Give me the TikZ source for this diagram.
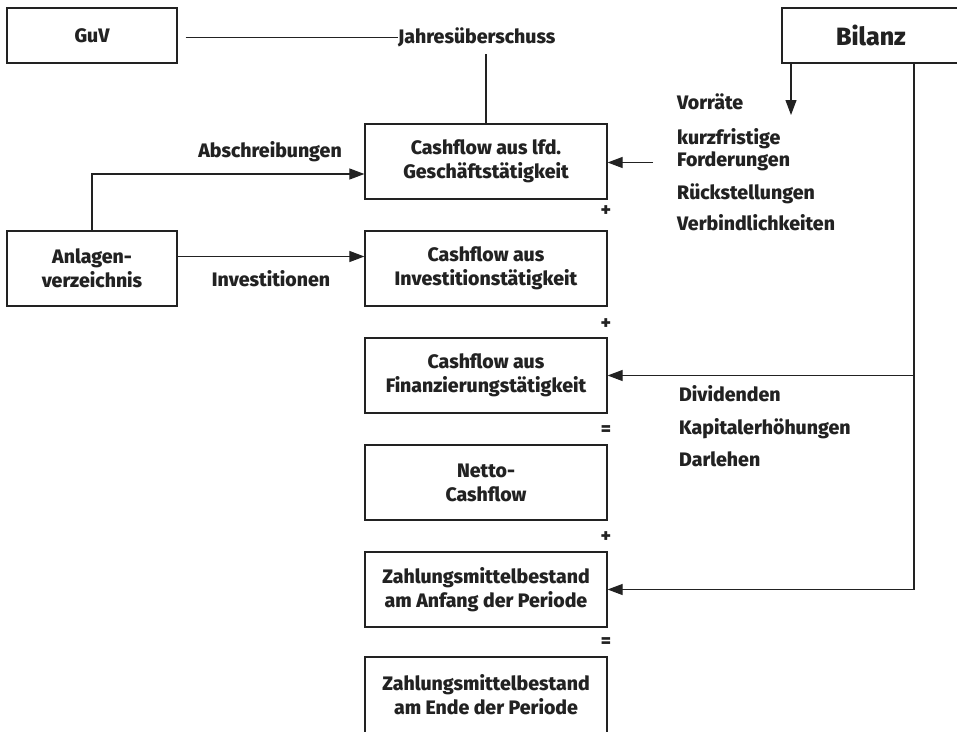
\documentclass[tikz,border=0pt]{standalone}
\usepackage{fontspec}
\setmainfont{Fira Sans}[BoldFont={Fira Sans ExtraBold}]
\usetikzlibrary{arrows.meta}
\definecolor{ink}{HTML}{222222}
\begin{document}
\begin{tikzpicture}[x=1pt,y=-1pt,
  every node/.style={font=\bfseries\fontsize{19.5}{24}\selectfont, text=ink},
  box/.style={draw=ink, line width=1.2pt, minimum height=75pt, align=center, inner sep=0pt},
  wide/.style={box, minimum width=242pt},
  side/.style={box, minimum width=170pt},
  lbl/.style={inner sep=0pt, anchor=base},
  item/.style={inner sep=0pt, anchor=base west},
  op/.style={inner sep=0pt},
  link/.style={draw=ink, line width=1.1pt},
  arr/.style={link, -{Triangle[length=15pt,width=11pt]}}]

\useasboundingbox (0,0) rectangle (957,731);
\clip (0,0) rectangle (957,731);

% sources
\node[side, minimum height=55pt] (guv) at (92,35.5) {GuV};
\node[box, minimum height=55pt, minimum width=178pt,
      font=\bfseries\fontsize{25}{28}\selectfont] (bilanz) at (871,35.5) {Bilanz};
\node[side] (anl) at (92,268.5) {Anlagen-\\verzeichnis};
\node[inner sep=0pt, anchor=base west] (jahr) at (398,43.5) {Jahresüberschuss};

% cash flow chain
\node[wide] (cf1) at (486,161.5) {Cashflow aus lfd.\\Geschäftstätigkeit};
\node[wide] (inv) at (486,268.5) {Cashflow aus\\Investitionstätigkeit};
\node[wide] (fin) at (486,375.5) {Cashflow aus\\Finanzierungstätigkeit};
\node[wide] (net) at (486,482.5) {Netto-\\Cashflow};
\node[wide] (anf) at (486,589.5) {Zahlungsmittelbestand\\am Anfang der Periode};
\node[wide, minimum height=76pt] (end) at (486,695) {Zahlungsmittelbestand\\am Ende der Periode};

% operators between the boxes
\node[op] (p1) at (606,211) {+};
\node[op] (p2) at (606,324) {+};
\node[op] (e1) at (606,431) {=};
\node[op] (p3) at (606,537) {+};
\node[op] (e2) at (606,643) {=};

% labels on the flows
\node[lbl] (abs) at (270,157.5) {Abschreibungen};
\node[lbl] (invl) at (271,286.5) {Investitionen};
\node[item] (vor) at (677,109.5) {Vorräte};
\node[inner sep=0pt, anchor=west, align=left,
      font=\bfseries\fontsize{19.5}{22}\selectfont] (kf) at (677,150) {kurzfristige\\Forderungen};
\node[item] (rue) at (677,199.5) {Rückstellungen};
\node[item] (verb) at (677,230.5) {Verbindlichkeiten};
\node[item] (div) at (679,401.5) {Dividenden};
\node[item] (kap) at (679,434.5) {Kapitalerhöhungen};
\node[item] (dar) at (679,466.5) {Darlehen};

% free ends of connectors
\path ([xshift=8pt]guv.east) coordinate (g0);
\coordinate (j0) at (486,54);
\coordinate (vor0) at (791,115);
\coordinate (ford0) at (653,162.5);
\coordinate (rail) at (914,589.5);

% connectors
\draw[link] (g0 |- jahr.west) -- (jahr.west);
\draw[link] (j0) -- (cf1.north);
\draw[arr] (bilanz.south west -| vor0) -- (vor0);
\draw[arr] (ford0) -- (ford0 -| cf1.east);
\draw[arr] (anl.north) |- ([yshift=-12.5pt]cf1.west);
\draw[arr] ([yshift=12pt]anl.east) -- ([yshift=12pt]inv.west);
\draw[arr] (bilanz.south -| rail) -- (rail) -- (anf.east);
\draw[arr] (fin.east -| rail) -- (fin.east);
\end{tikzpicture}
\end{document}
